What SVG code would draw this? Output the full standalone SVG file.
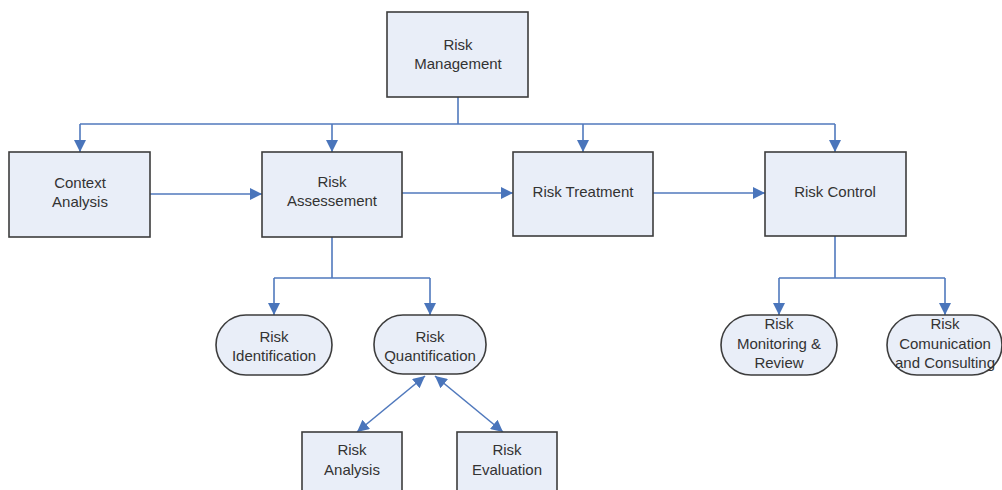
<svg xmlns="http://www.w3.org/2000/svg" width="1002" height="490" viewBox="0 0 1002 490">
<defs>
<style>
.box{fill:#e9eef8;stroke:#3d3d3d;stroke-width:1.6}
.t{font-family:"Liberation Sans",Arial,sans-serif;font-size:15px;fill:#333;text-anchor:middle}
.c{fill:none;stroke:#5079bd;stroke-width:1.6}
</style>
<marker id="ah" markerUnits="userSpaceOnUse" markerWidth="12" markerHeight="12" refX="10" refY="5" orient="auto-start-reverse" viewBox="0 0 10 10">
<path d="M0,0 L10,5 L0,10 z" fill="#4a75bb"/>
</marker>
</defs>
<rect width="1002" height="490" fill="#fff"/>
<g id="connectors">
<path class="c" d="M458,97 V124"/>
<path class="c" d="M80,124 H835"/>
<path class="c" d="M80,124 V152" marker-end="url(#ah)"/>
<path class="c" d="M332,124 V152" marker-end="url(#ah)"/>
<path class="c" d="M583,124 V152" marker-end="url(#ah)"/>
<path class="c" d="M835,124 V152" marker-end="url(#ah)"/>
<path class="c" d="M150,194 H262" marker-end="url(#ah)"/>
<path class="c" d="M402,193 H513" marker-end="url(#ah)"/>
<path class="c" d="M653,193 H765" marker-end="url(#ah)"/>
<path class="c" d="M332,237 V278 M274,278 H430"/>
<path class="c" d="M274,278 V315" marker-end="url(#ah)"/>
<path class="c" d="M430,278 V315" marker-end="url(#ah)"/>
<path class="c" d="M835,236 V278 M779,278 H945"/>
<path class="c" d="M779,278 V315" marker-end="url(#ah)"/>
<path class="c" d="M945,278 V315" marker-end="url(#ah)"/>
<path class="c" d="M425,376 L357,432" marker-start="url(#ah)" marker-end="url(#ah)"/>
<path class="c" d="M435,376 L503,432" marker-start="url(#ah)" marker-end="url(#ah)"/>
</g>
<g id="risk-management">
<rect class="box" x="387" y="12" width="141" height="85"/>
<text class="t" x="458" y="50">Risk</text>
<text class="t" x="458" y="69">Management</text>
</g>
<g id="context-analysis">
<rect class="box" x="9" y="152" width="141" height="85"/>
<text class="t" x="80" y="188">Context</text>
<text class="t" x="80" y="207">Analysis</text>
</g>
<g id="risk-assessment">
<rect class="box" x="262" y="152" width="140" height="85"/>
<text class="t" x="332" y="187">Risk</text>
<text class="t" x="332" y="206">Assessement</text>
</g>
<g id="risk-treatment">
<rect class="box" x="513" y="152" width="140" height="84"/>
<text class="t" x="583" y="197">Risk Treatment</text>
</g>
<g id="risk-control">
<rect class="box" x="765" y="152" width="141" height="84"/>
<text class="t" x="835" y="197">Risk Control</text>
</g>
<g id="risk-identification">
<rect class="box" x="216" y="315" width="116" height="60" rx="30" ry="30"/>
<text class="t" x="274" y="342">Risk</text>
<text class="t" x="274" y="361">Identification</text>
</g>
<g id="risk-quantification">
<rect class="box" x="374" y="315" width="112" height="59" rx="29" ry="29"/>
<text class="t" x="430" y="342">Risk</text>
<text class="t" x="430" y="361">Quantification</text>
</g>
<g id="risk-monitoring">
<rect class="box" x="721" y="315" width="116" height="60" rx="30" ry="30"/>
<text class="t" x="779" y="329">Risk</text>
<text class="t" x="779" y="349">Monitoring &amp;</text>
<text class="t" x="779" y="368">Review</text>
</g>
<g id="risk-communication">
<rect class="box" x="887" y="315" width="115" height="60" rx="30" ry="30"/>
<text class="t" x="945" y="329">Risk</text>
<text class="t" x="945" y="349">Comunication</text>
<text class="t" x="945" y="368">and Consulting</text>
</g>
<g id="risk-analysis">
<rect class="box" x="302" y="432" width="100" height="70"/>
<text class="t" x="352" y="455">Risk</text>
<text class="t" x="352" y="475">Analysis</text>
</g>
<g id="risk-evaluation">
<rect class="box" x="457" y="432" width="100" height="70"/>
<text class="t" x="507" y="455">Risk</text>
<text class="t" x="507" y="475">Evaluation</text>
</g>
</svg>
